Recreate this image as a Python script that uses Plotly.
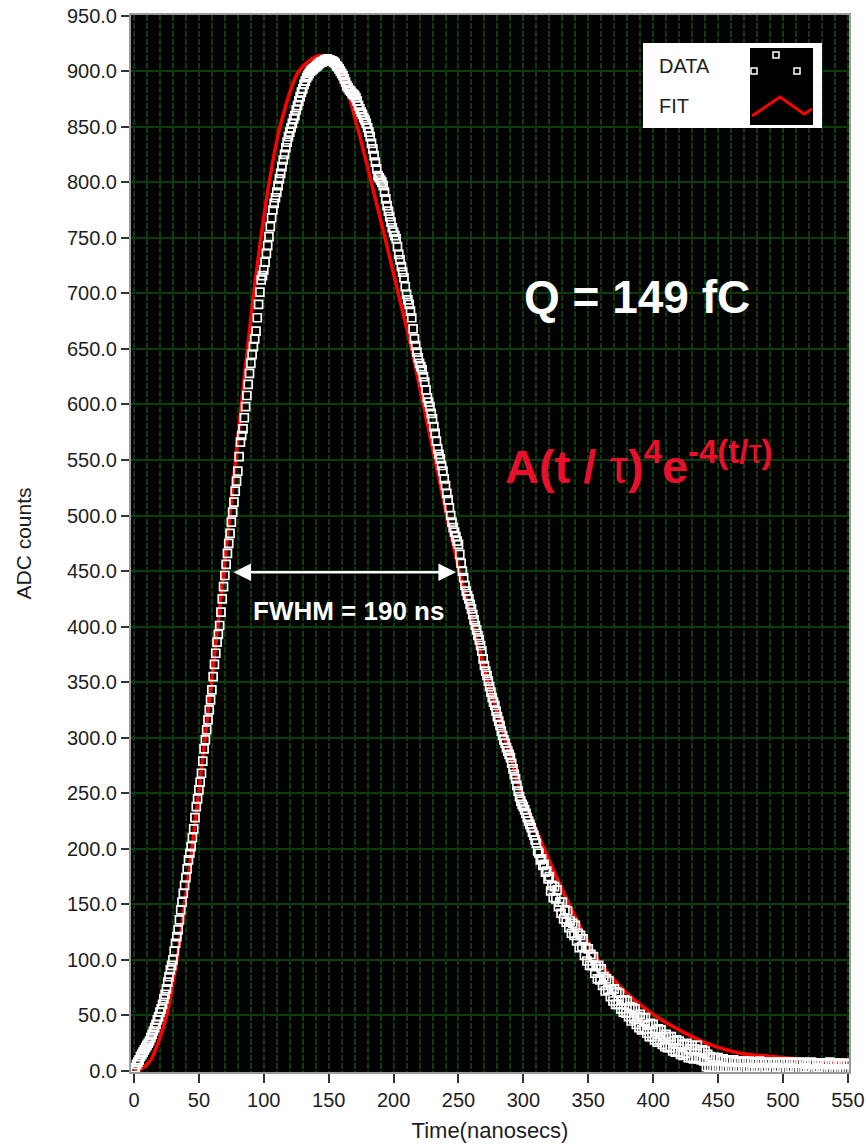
import plotly.graph_objects as go

# ---------------- data ----------------
time_ns = list(range(0, 551))  # 1 ns sampling

adc_counts = [
    1, 3, 6, 8, 10, 13, 15, 17, 19, 21,
    23, 25, 27, 30, 33, 36, 39, 42, 46, 49,
    53, 56, 60, 65, 69, 74, 80, 85, 91, 95,
    100, 108, 115, 121, 127, 136, 145, 152, 160, 167,
    174, 182, 190, 196, 202, 210, 218, 228, 238, 245,
    253, 260, 268, 279, 290, 298, 307, 316, 325, 334,
    343, 355, 366, 376, 386, 393, 401, 413, 425, 436,
    446, 456, 466, 475, 484, 494, 503, 512, 522, 531,
    540, 553, 566, 572, 578, 588, 598, 608, 618, 628,
    637, 645, 652, 659, 666, 678, 690, 701, 712, 716,
    721, 728, 736, 743, 751, 760, 768, 775, 781, 786,
    791, 797, 803, 808, 814, 820, 825, 831, 836, 841,
    845, 849, 853, 857, 860, 865, 869, 873, 877, 881,
    884, 888, 891, 894, 896, 898, 900, 901, 902, 903,
    904, 905, 906, 907, 908, 908, 909, 910, 910, 911,
    910, 910, 909, 909, 908, 907, 905, 904, 902, 900,
    898, 896, 893, 890, 887, 885, 883, 882, 880, 879,
    878, 876, 873, 869, 866, 863, 861, 858, 856, 853,
    849, 845, 841, 835, 830, 824, 818, 812, 806, 804,
    802, 800, 797, 791, 785, 779, 774, 769, 764, 759,
    755, 752, 749, 742, 735, 730, 724, 719, 714, 706,
    699, 694, 690, 684, 678, 668, 659, 653, 647, 642,
    637, 634, 631, 625, 620, 613, 606, 602, 598, 592,
    587, 580, 574, 567, 560, 555, 551, 545, 540, 533,
    527, 520, 514, 507, 500, 494, 489, 485, 481, 477,
    474, 465, 457, 450, 444, 437, 432, 428, 425, 420,
    416, 411, 406, 401, 397, 392, 388, 383, 378, 371,
    365, 360, 356, 351, 346, 341, 336, 332, 329, 324,
    319, 315, 311, 306, 302, 298, 295, 291, 288, 285,
    282, 277, 272, 267, 263, 257, 252, 247, 243, 240,
    238, 235, 232, 228, 225, 222, 219, 215, 212, 208,
    205, 198, 196, 190, 191, 185, 186, 179, 180, 173,
    175, 162, 167, 156, 166, 155, 163, 148, 152, 142,
    152, 137, 145, 134, 144, 129, 135, 124, 133, 122,
    131, 117, 124, 111, 122, 112, 119, 104, 111, 99,
    110, 95, 105, 95, 103, 88, 94, 83, 95, 82,
    92, 77, 85, 72, 83, 73, 81, 67, 73, 63,
    74, 60, 71, 60, 70, 56, 64, 53, 64, 52,
    63, 49, 58, 45, 57, 47, 56, 42, 49, 39,
    51, 37, 48, 38, 48, 34, 42, 31, 43, 31,
    42, 28, 37, 26, 38, 28, 37, 24, 31, 22,
    33, 21, 31, 21, 31, 18, 27, 17, 28, 17,
    27, 15, 24, 14, 24, 16, 25, 12, 20, 12,
    23, 11, 20, 12, 23, 11, 18, 10, 19, 9,
    18, 4, 15, 3, 13, 2, 12, 3, 12, 2,
    12, 2, 10, 3, 11, 2, 9, 1, 10, 3,
    9, 2, 10, 1, 8, 3, 9, 2, 8, 1,
    9, 2, 8, 3, 9, 1, 8, 2, 7, 3,
    8, 2, 9, 1, 7, 2, 8, 3, 7, 1,
    8, 2, 7, 1, 8, 3, 7, 2, 8, 1,
    7, 2, 8, 1, 7, 3, 8, 2, 7, 1,
    8, 2, 7, 1, 7, 2, 8, 3, 6, 1,
    7, 2, 8, 1, 7, 2, 6, 3, 7, 1,
    7, 2, 6, 1, 7, 2, 8, 1, 6, 2,
    7, 1, 6, 2, 7, 1, 6, 2, 7, 1,
    6,
]

fit_time = [0, 4, 7, 10, 13, 18.5, 25.2, 33.0, 39.0, 44.6, 49.8, 54.8, 59.7, 64.5,
            69.2, 73.8, 78.3, 82.8, 87.4, 92.3, 97.8, 104.2, 112.5, 127.0, 143.5,
            158.7, 172.0, 182.8, 193.4, 203.6, 213.9, 222.9, 231.9, 240.9, 250.6,
            261.6, 272.8, 285.8, 298.7, 316.0, 335.3, 357.7, 378, 400, 420, 441,
            467, 492, 520, 550]
fit_counts = [0, 1, 3, 6, 10, 25, 50, 100, 150, 200, 250, 300, 350, 400,
              450, 500, 550, 600, 650, 700, 750, 800, 850, 900, 914,
              900, 850, 800, 750, 700, 650, 600, 550, 500, 450,
              400, 350, 300, 250, 200, 150, 100, 72, 51, 37, 25,
              16, 13, 10, 8]

x_ticks = [0, 50, 100, 150, 200, 250, 300, 350, 400, 450, 500, 550]
y_ticks = [0, 50, 100, 150, 200, 250, 300, 350, 400, 450, 500, 550, 600, 650,
           700, 750, 800, 850, 900, 950]

fwhm_left, fwhm_right, fwhm_level = 75.5, 248, 449

# ---------------- figure ----------------
W, H = 866, 1144
ML, MR, MT, MB = 131, 17, 15, 72
PW, PH = W - ML - MR, H - MT - MB


def paper(xp, yp):
    return (xp - ML) / PW, (H - MB - yp) / PH


GRID = "#0b3d0b"
TXT = "#1e1e1e"
FONT = "Liberation Sans, Arial, sans-serif"

fig = go.Figure()
fig.add_trace(go.Scatter(
    x=fit_time, y=fit_counts, mode="lines", name="FIT",
    line=dict(color="#ff0000", width=3.5, shape="spline", smoothing=0.8),
    showlegend=False, hoverinfo="skip"))
fig.add_trace(go.Scatter(
    x=time_ns, y=adc_counts, mode="markers", name="DATA",
    marker=dict(symbol="square-open", size=8, color="white",
                line=dict(width=1.7, color="white")),
    showlegend=False))

shapes = []
# legend box
x0, y0 = paper(643, 128); x1, y1 = paper(822, 43)
shapes.append(dict(type="rect", xref="paper", yref="paper", x0=x0, y0=y0, x1=x1, y1=y1,
                   fillcolor="white", line=dict(width=0), layer="above"))
x0, y0 = paper(750, 125); x1, y1 = paper(813, 48)
shapes.append(dict(type="rect", xref="paper", yref="paper", x0=x0, y0=y0, x1=x1, y1=y1,
                   fillcolor="black", line=dict(width=0), layer="above"))
for (cx, cy) in [(776, 55), (797, 71), (754, 71)]:
    a, b = paper(cx - 3, cy + 3); c, d = paper(cx + 3, cy - 3)
    shapes.append(dict(type="rect", xref="paper", yref="paper", x0=a, y0=b, x1=c, y1=d,
                       fillcolor="black", line=dict(width=1.5, color="white"), layer="above"))
pts = [paper(752, 116), paper(780, 97), paper(804, 114), paper(812, 109)]
path = "M " + " L ".join(f"{p[0]:.5f},{p[1]:.5f}" for p in pts)
shapes.append(dict(type="path", xref="paper", yref="paper", path=path,
                   line=dict(color="#ff0000", width=3), layer="above"))

annotations = []
lx, ly = paper(657, 66)
annotations.append(dict(xref="paper", yref="paper", x=lx, y=ly, text="DATA", showarrow=False,
                        xanchor="left", yanchor="middle", font=dict(family=FONT, size=20, color=TXT)))
lx, ly = paper(657, 106)
annotations.append(dict(xref="paper", yref="paper", x=lx, y=ly, text="FIT", showarrow=False,
                        xanchor="left", yanchor="middle", font=dict(family=FONT, size=20, color=TXT)))

annotations.append(dict(x=387.5, y=697, xref="x", yref="y", text="<b>Q = 149 fC</b>",
                        showarrow=False, xanchor="center", yanchor="middle",
                        font=dict(family=FONT, size=46, color="white")))
annotations.append(dict(x=389, y=547, xref="x", yref="y",
                        text="<b>A(t / </b>τ<b>)<sup>4</sup>e<sup>-4(t/</sup></b><sup>τ</sup><b><sup>)</sup></b>",
                        showarrow=False, xanchor="center", yanchor="middle",
                        font=dict(family=FONT, size=47, color="#e8102a")))
annotations.append(dict(x=165, y=414, xref="x", yref="y", text="<b>FWHM = 190 ns</b>",
                        showarrow=False, xanchor="center", yanchor="middle",
                        font=dict(family=FONT, size=26, color="white")))
annotations.append(dict(x=fwhm_right, y=fwhm_level, ax=fwhm_left, ay=fwhm_level,
                        xref="x", yref="y", axref="x", ayref="y", text="",
                        showarrow=True, arrowside="end+start", arrowhead=2,
                        arrowsize=1.4, arrowwidth=2.5, arrowcolor="white",
                        standoff=0, startstandoff=0))

fig.update_layout(
    width=W, height=H,
    margin=dict(l=ML, r=MR, t=MT, b=MB),
    paper_bgcolor="white", plot_bgcolor="black",
    font=dict(family=FONT, color=TXT),
    shapes=shapes, annotations=annotations,
    showlegend=False,
)
fig.update_xaxes(
    range=[-2.3, 550.85], tickmode="array", tickvals=x_ticks,
    ticktext=[str(v) for v in x_ticks],
    ticks="outside", ticklen=9, tickwidth=2, tickcolor="#333",
    tickfont=dict(family=FONT, size=20, color=TXT),
    showgrid=True, gridcolor=GRID, gridwidth=1.5, griddash="6px,2px",
    minor=dict(dtick=10, tick0=0, showgrid=True, gridcolor=GRID, gridwidth=1.5,
               griddash="6px,2px", ticks=""),
    showline=True, linecolor="#9a9a9a", linewidth=2, mirror=True, zeroline=False,
    title=dict(text="Time(nanosecs)", font=dict(family=FONT, size=22, color=TXT), standoff=13),
    automargin=False,
)
fig.update_yaxes(
    range=[-0.9, 950.5], tickmode="array", tickvals=y_ticks,
    ticktext=[f"{v:.1f}" for v in y_ticks],
    ticks="outside", ticklen=8, tickwidth=2, tickcolor="#333",
    tickfont=dict(family=FONT, size=20, color=TXT),
    showgrid=True, gridcolor=GRID, gridwidth=2,
    showline=True, linecolor="#9a9a9a", linewidth=2, mirror=True, zeroline=False,
    title=dict(text="ADC counts", font=dict(family=FONT, size=21, color=TXT), standoff=30),
    automargin=False,
)

fig.write_html("out.html", config={"displayModeBar": False},
               post_script="document.body.style.margin='0px';")
